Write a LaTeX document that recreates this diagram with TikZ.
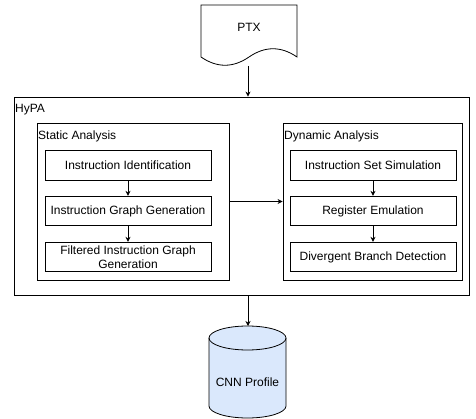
\documentclass[tikz,border=0pt]{standalone}
\usepackage{fontspec}
\setmainfont{Liberation Sans}
\usetikzlibrary{arrows.meta}
\definecolor{cylfill}{HTML}{DAE8FC}

\begin{document}
\begin{tikzpicture}[x=1pt,y=-1pt,font=\fontsize{12}{14}\selectfont,
  frame/.style={draw,line width=0.8pt},
  box/.style={frame,minimum width=166pt,minimum height=29.5pt,inner sep=1pt,align=center},
  tag/.style={anchor=west,inner sep=1pt},
  arr/.style={-{Stealth[length=5pt,width=5pt]},line width=0.8pt}]

  \useasboundingbox (0,0) rectangle (476,419);

  % input document
  \draw[frame] (201,5) -- (297,5) -- (297,57)
    .. controls (281,46) and (265,46) .. (249,57)
    .. controls (233,68) and (217,68) .. (201,57) -- cycle;
  \node (ptx) at (249,27) {PTX};
  \coordinate (ptxout) at (248,66);

  % HyPA frame
  \node[frame,minimum width=455pt,minimum height=198pt] (hypa) at (241.5,196) {};
  \node[tag] (hypatag) at (14,110) {HyPA};

  % static analysis
  \node[frame,minimum width=192pt,minimum height=157pt] (static) at (133,201.5) {};
  \node[tag] (statictag) at (37,136) {Static Analysis};
  \node[box] (s1) at (128,165.5) {Instruction Identification};
  \node[box] (s2) at (128,211) {Instruction Graph Generation};
  \node[box] (s3) at (128,257) {Filtered Instruction Graph\\Generation};

  % dynamic analysis
  \node[frame,minimum width=179pt,minimum height=157pt] (dynamic) at (372.5,201.5) {};
  \node[tag] (dynamictag) at (283,136) {Dynamic Analysis};
  \node[box] (d1) at (373,165.5) {Instruction Set Simulation};
  \node[box] (d2) at (373,211) {Register Emulation};
  \node[box] (d3) at (373,257) {Divergent Branch Detection};

  % output database
  \draw[frame,fill=cylfill] (209,338) -- (209,406) arc[start angle=180,end angle=0,x radius=38.5,y radius=12]
    -- (286,338) arc[start angle=0,end angle=-180,x radius=38.5,y radius=12] -- cycle;
  \draw[frame] (209,338) arc[start angle=180,end angle=0,x radius=38.5,y radius=12];
  \node (cnn) at (247.5,382) {CNN Profile};
  \coordinate (cnntop) at (248,326);

  \draw[arr] (ptxout) -- (ptxout |- hypa.north);
  \draw[arr] (s1) -- (s2);
  \draw[arr] (s2) -- (s3);
  \draw[arr] (d1) -- (d2);
  \draw[arr] (d2) -- (d3);
  \draw[arr] (static.east) -- (dynamic.west);
  \draw[arr] (cnntop |- hypa.south) -- (cnntop);
\end{tikzpicture}
\end{document}
